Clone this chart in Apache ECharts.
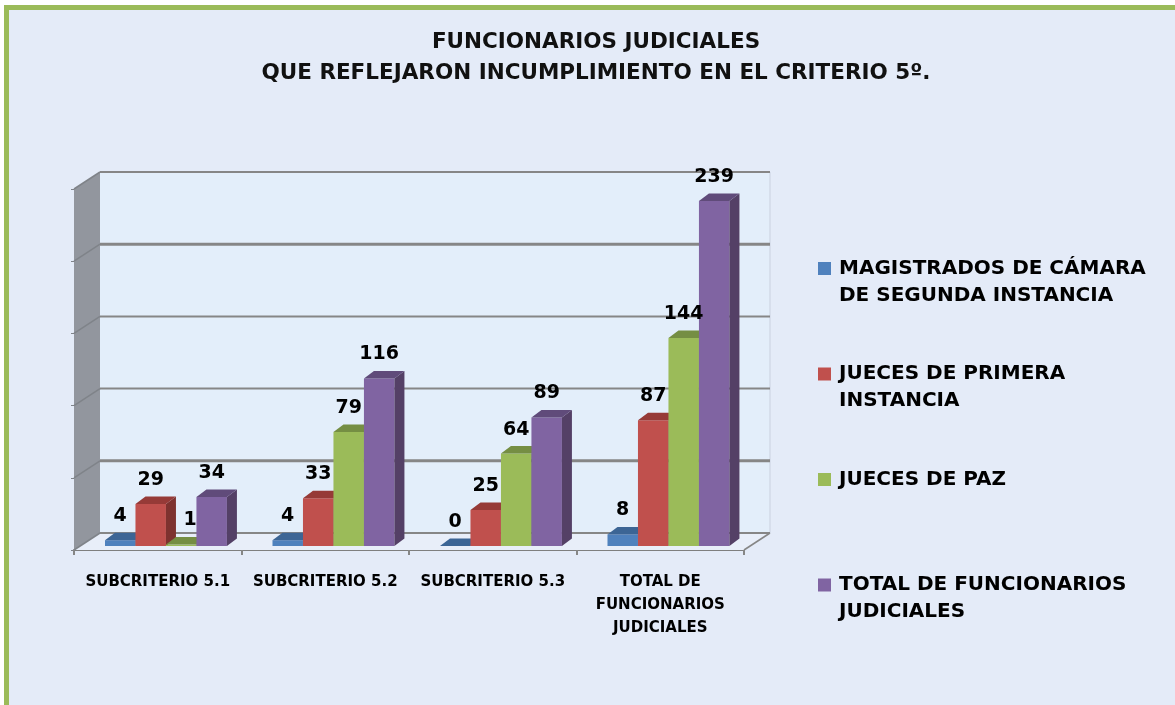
<!DOCTYPE html>
<html><head><meta charset="utf-8">
<style>html,body{margin:0;padding:0;background:#fff}#c{width:1175px;height:705px}</style>
<script src="https://cdn.jsdelivr.net/npm/echarts@6/dist/echarts.min.js"></script></head>
<body><div id="c"></div>
<script>
const categories = ['SUBCRITERIO 5.1','SUBCRITERIO 5.2','SUBCRITERIO 5.3','TOTAL DE\nFUNCIONARIOS\nJUDICIALES'];
const magistrados = [4,4,0,8];
const juecesPrimera = [29,33,25,87];
const juecesPaz = [1,79,64,144];
const totalFuncionarios = [34,116,89,239];
const seriesNames = ['MAGISTRADOS DE CÁMARA\nDE SEGUNDA INSTANCIA','JUECES DE PRIMERA\nINSTANCIA','JUECES DE PAZ','TOTAL DE FUNCIONARIOS\nJUDICIALES'];
const titleText = 'FUNCIONARIOS JUDICIALES\nQUE REFLEJARON INCUMPLIMIENTO EN EL CRITERIO 5º.';

const FONT = '"DejaVu Sans"';
const faces = [
  {front:'#4F81BD', top:'#3C6595', side:'#2F5078'},
  {front:'#C0504D', top:'#963A37', side:'#7E322F'},
  {front:'#9BBB59', top:'#758E43', side:'#647A39'},
  {front:'#8064A2', top:'#604B7A', side:'#544066'}
];
const WALL_DX = 26, WALL_DY = -17, BAR_DX = 10, BAR_DY = -7.5, FLOOR_SHIFT = -4;
const gridWidths = [2,3,2,2,3,2];

function poly(points, fill, extra){
  return Object.assign({type:'polygon', shape:{points}, style:{fill}}, extra||{});
}
function barSeries(seriesIndex, values){
  const f = faces[seriesIndex];
  return {
    type:'custom', name:seriesNames[seriesIndex], coordinateSystem:'cartesian2d', clip:false, z:3,
    itemStyle:{color:f.front}, encode:{x:0,y:1},
    data: values.map((v,i)=>[i,v]),
    renderItem(params, api){
      const idx = api.value(0), val = api.value(1);
      const band = api.size([1,0])[0];
      const w = band*0.182;
      const catLeft = api.coord([idx,0])[0]-band/2;
      const x0 = catLeft + band*0.185 + w*seriesIndex;
      const x1 = x0 + w;
      const yBase = api.coord([idx,0])[1]+FLOOR_SHIFT;
      const yTop = api.coord([idx,val])[1]+FLOOR_SHIFT;
      const nudge = (val===1) ? 9 : 0;
      return {type:'group', children:[
        poly([[x0,yBase],[x1,yBase],[x1,yTop],[x0,yTop]], f.front),
        poly([[x1,yBase],[x1+BAR_DX,yBase+BAR_DY],[x1+BAR_DX,yTop+BAR_DY],[x1,yTop]], f.side),
        poly([[x0,yTop],[x1,yTop],[x1+BAR_DX,yTop+BAR_DY],[x0+BAR_DX,yTop+BAR_DY]], f.top),
        {type:'text', z2:100, style:{text:String(val), x:(x0+x1)/2+nudge, y:yTop-24, align:'center', verticalAlign:'middle',
          fill:'#000', font:'bold 19px '+FONT}}
      ]};
    }
  };
}
const wallSeries = {
  type:'custom', coordinateSystem:'cartesian2d', clip:false, z:1, silent:true, data:[[0,0]], encode:{x:0,y:1},
  renderItem(params, api){
    const cs = params.coordSys;
    const xL = cs.x, xR = cs.x+cs.width;
    const y0 = api.coord([0,0])[1], yM = api.coord([0,250])[1];
    const ch = [
      poly([[xL+WALL_DX,y0+WALL_DY],[xR+WALL_DX,y0+WALL_DY],[xR+WALL_DX,yM+WALL_DY],[xL+WALL_DX,yM+WALL_DY]],'#E3EEFA'),
      poly([[xL,y0],[xL+WALL_DX,y0+WALL_DY],[xL+WALL_DX,yM+WALL_DY],[xL,yM]],'#92969E'),
      poly([[xL,y0],[xR,y0],[xR+WALL_DX,y0+WALL_DY],[xL+WALL_DX,y0+WALL_DY]],'#E8EEF9'),
      {type:'line', shape:{x1:xR+WALL_DX,y1:y0+WALL_DY,x2:xR+WALL_DX,y2:yM+WALL_DY}, style:{stroke:'#C9D1DF',lineWidth:1}},
      {type:'line', shape:{x1:xR,y1:y0,x2:xR+WALL_DX,y2:y0+WALL_DY}, style:{stroke:'#868686',lineWidth:1.5}}
    ];
    [0,50,100,150,200,250].forEach((t,i)=>{
      const y = api.coord([0,t])[1];
      ch.push({type:'line', shape:{x1:xL+WALL_DX,y1:y+WALL_DY,x2:xR+WALL_DX,y2:y+WALL_DY}, style:{stroke:'#868686',lineWidth:gridWidths[i]}});
      ch.push({type:'line', shape:{x1:xL,y1:y,x2:xL+WALL_DX,y2:y+WALL_DY}, style:{stroke:'#7F8389',lineWidth:1.5}});
    });
    return {type:'group', children:ch};
  }
};
const option = {
  animation:false,
  backgroundColor:'#fff',
  title:{text:titleText, left:591, top:22, textAlign:'center',
    textStyle:{fontFamily:FONT, fontSize:21.5, fontWeight:'bold', color:'#111', lineHeight:31}},
  graphic:[
    {type:'rect', z:-10, shape:{x:4,y:5,width:1171,height:700}, style:{fill:'#E4EBF8'}},
    {type:'rect', z:-9, shape:{x:4,y:5,width:1171,height:5}, style:{fill:'#9BBB59'}},
    {type:'rect', z:-9, shape:{x:4,y:5,width:5,height:700}, style:{fill:'#9BBB59'}}
  ],
  legend:{
    orient:'vertical', left:818, top:228, padding:0, itemWidth:13, itemHeight:13, itemGap:24.5, icon:'rect', selectedMode:false,
    textStyle:{fontFamily:FONT, fontSize:20, fontWeight:'bold', color:'#000', lineHeight:27, padding:[0,0,0,3]},
    formatter:n => n.indexOf('\n')>=0 ? '\n'+n : '\n'+n+'\n',
    data:seriesNames
  },
  grid:{left:74, top:189, width:670, height:361},
  xAxis:{type:'category', data:categories,
    axisLine:{lineStyle:{color:'#7F7F7F',width:2}}, axisTick:{show:true,length:5,alignWithLabel:false,lineStyle:{color:'#868686',width:2}},
    axisLabel:{interval:0, margin:21, color:'#000', fontFamily:FONT, fontSize:15, fontWeight:'bold', lineHeight:23}, splitLine:{show:false}},
  yAxis:{type:'value', min:0, max:250, interval:50,
    axisLine:{show:false}, axisTick:{show:true,length:3,lineStyle:{color:'#7F8389',width:1}},
    axisLabel:{show:false}, splitLine:{show:false}},
  series:[wallSeries, barSeries(0,magistrados), barSeries(1,juecesPrimera), barSeries(2,juecesPaz), barSeries(3,totalFuncionarios)]
};
const chart = echarts.init(document.getElementById('c'), null, {renderer:'canvas'});
chart.setOption(option);
</script></body></html>
